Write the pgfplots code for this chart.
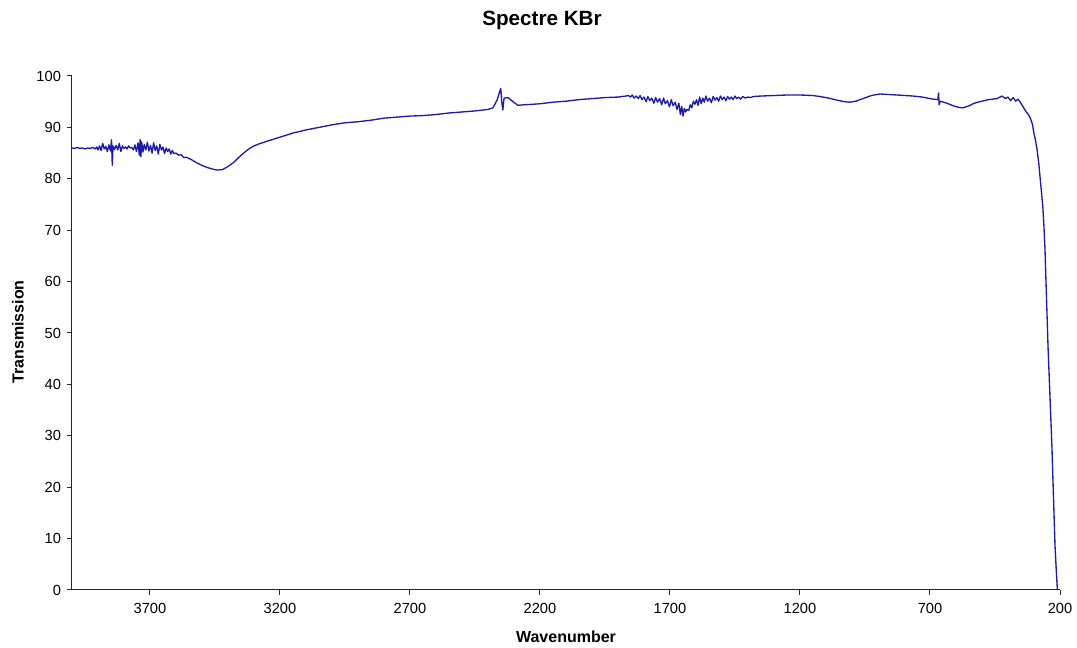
\documentclass[border=0pt]{standalone}
\usepackage{fontspec}
\setmainfont{Liberation Sans}
\usepackage{pgfplots}
\usepackage{pgfplotstable}
\pgfplotsset{compat=1.18}

\definecolor{specblue}{RGB}{28,28,168}
\definecolor{axgray}{RGB}{40,40,40}

% KBr spectrum (wavenumber, transmission)
\pgfplotstableread{
wn    T
4000  86.0
3990  85.9
3980  86.1
3970  85.9
3960  86.0
3950  85.8
3940  86.0
3930  85.9
3920  86.1
3910  85.8
3905  86.2
3900  85.6
3894  86.4
3888  85.5
3882  86.9
3876  85.8
3870  86.3
3864  85.3
3858  86.6
3852  85.4
3848  87.6
3845  82.6
3842  86.4
3836  85.7
3830  86.5
3824  85.6
3818  86.9
3812  85.3
3806  86.4
3800  85.9
3794  86.2
3788  85.8
3782  86.4
3776  86.0
3770  86.1
3764  85.6
3758  86.6
3752  85.3
3746  87.0
3741  84.6
3738  87.6
3735  84.3
3732  87.2
3727  85.2
3722  86.7
3716  85.6
3710  87.1
3704  85.4
3698  86.5
3692  85.0
3686  87.0
3680  85.5
3674  86.4
3668  84.8
3662  86.7
3656  85.6
3650  86.2
3644  84.9
3638  86.0
3632  85.3
3626  85.8
3620  84.8
3614  85.5
3608  84.9
3600  85.0
3590  84.6
3580  84.7
3570  84.1
3560  84.2
3540  83.7
3520  83.1
3500  82.6
3480  82.2
3460  81.9
3442  81.7
3420  81.8
3400  82.4
3380  83.1
3360  84.1
3340  85.0
3320  85.8
3300  86.4
3280  86.8
3250  87.3
3200  88.1
3150  88.9
3100  89.5
3050  90.0
3000  90.5
2950  90.9
2900  91.1
2850  91.4
2800  91.8
2750  92.0
2700  92.2
2650  92.3
2600  92.5
2550  92.8
2500  93.0
2450  93.2
2400  93.5
2381  93.8
2365  95.3
2351  97.6
2347  95.0
2343  93.4
2338  95.7
2323  95.8
2304  95.0
2285  94.3
2260  94.4
2227  94.5
2200  94.6
2150  94.9
2100  95.1
2050  95.4
2000  95.6
1950  95.8
1900  95.9
1870  96.1
1860  96.2
1852  95.9
1845  96.3
1838  95.7
1830  96.1
1822  95.6
1815  96.2
1808  95.4
1800  95.9
1792  95.0
1785  96.0
1778  95.2
1770  95.7
1762  94.7
1755  95.8
1748  94.9
1740  95.6
1732  94.4
1725  95.7
1718  94.6
1710  95.2
1702  94.0
1695  95.4
1688  94.2
1680  94.9
1673  93.5
1666  94.7
1660  92.5
1655  94.1
1650  92.2
1645  93.7
1640  93.0
1635  93.5
1628  93.3
1622  94.4
1616  93.8
1610  95.1
1604  94.5
1598  95.4
1592  94.3
1586  95.9
1580  94.6
1574  95.7
1568  94.9
1562  96.1
1555  95.1
1548  95.7
1541  94.8
1534  96.0
1527  95.3
1520  95.8
1513  95.1
1506  96.1
1499  95.4
1492  95.9
1485  95.2
1478  96.0
1471  95.5
1464  95.9
1457  95.4
1450  96.1
1443  95.6
1436  95.9
1429  95.5
1420  96.0
1410  95.7
1400  95.9
1390  95.8
1380  96.0
1350  96.1
1300  96.2
1250  96.3
1200  96.3
1150  96.2
1123  96.0
1090  95.7
1058  95.3
1030  95.0
1008  94.9
985   95.1
958   95.6
925   96.2
892   96.5
860   96.4
827   96.3
795   96.2
765   96.1
730   95.9
689   95.5
670   95.4
667   96.7
665   94.4
660   95.1
635   94.7
610   94.2
590   93.9
573   93.8
550   94.2
530   94.7
508   95.0
475   95.4
442   95.6
423   96.1
410   95.6
400   95.9
390   95.2
380   95.8
370   95.1
362   95.5
354   95.0
342   94.0
330   93.0
323   92.6
314   91.8
306   90.6
300   88.8
294   87.4
288   85.6
282   83.2
277   80.5
272   77.8
266   74.5
262   71.0
258   66.7
252   57.0
246   47.3
238   37.0
231   27.8
225   18.0
219   8.4
214   3.5
210   0.0
}\spectrum

\begin{document}
\begin{tikzpicture}
\begin{axis}[
    name=ax,
    scale only axis,
    width=741pt,
    height=385.5pt,
    xmin=200, xmax=4000,
    x dir=reverse,
    ymin=0, ymax=100,
    axis lines=left,
    axis line style={-, axgray, line width=0.75pt},
    xtick={200,700,1200,1700,2200,2700,3200,3700},
    ytick={0,10,...,100},
    tick align=outside,
    major tick length=3.75pt,
    tick style={axgray, line width=0.75pt},
    /pgf/number format/assume math mode=true,
    /pgf/number format/1000 sep={},
    tick label style={font=\fontsize{11}{13}\selectfont},
    xticklabel style={yshift=-3pt},
    yticklabel style={xshift=-1pt},
    clip=false,
]
\addplot[specblue, line width=1pt, line join=round] table[x=wn, y=T] {\spectrum};
\end{axis}
\node[anchor=base, font=\fontsize{15.5}{18}\selectfont\bfseries]
    at ([shift={(352.5pt,423pt)}]ax.south west) {Spectre KBr};
\node[anchor=base, font=\fontsize{12}{14}\selectfont\bfseries]
    at ([shift={(370.5pt,-39.75pt)}]ax.south west) {Wavenumber};
\node[rotate=90, anchor=center, inner sep=0pt, font=\fontsize{12}{14}\selectfont\bfseries]
    at ([shift={(-40.5pt,193.5pt)}]ax.south west) {Transmission};
\pgfresetboundingbox
\useasboundingbox ([shift={(-54pt,-43.5pt)}]ax.south west) rectangle ([shift={(753.75pt,442.5pt)}]ax.south west);
\end{tikzpicture}
\end{document}
